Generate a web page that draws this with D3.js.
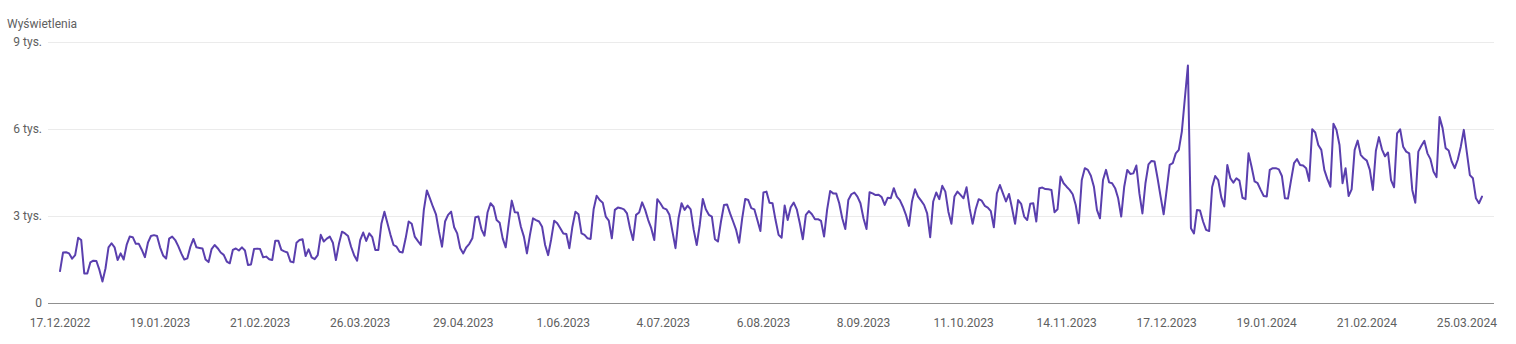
<!DOCTYPE html>
<html>
<head>
<meta charset="utf-8">
<script src="https://cdn.jsdelivr.net/npm/d3@7"></script>
<style>
	html, body { margin: 0; padding: 0; background: #fff; }
	svg { display: block; font-family: Roboto, 'Noto Sans', sans-serif; }
</style>
</head>
<body>
<div id="chart"></div>
<script>
// daily views, starting 17.12.2022
const startDate = '17.12.2022'
const views = [
	1100, 1740, 1750, 1710, 1530, 1650, 2250, 2170, 1020, 1020, 1400, 1460, 1450, 1140, 740, 1190,
	1920, 2060, 1920, 1480, 1710, 1500, 2010, 2290, 2270, 2040, 2040, 1830, 1580, 2080, 2310, 2340,
	2310, 1920, 1640, 1530, 2220, 2290, 2170, 1960, 1710, 1500, 1540, 1940, 2210, 1920, 1900, 1880,
	1500, 1410, 1860, 2000, 1890, 1740, 1660, 1430, 1370, 1830, 1880, 1810, 1920, 1810, 1310, 1330,
	1860, 1875, 1860, 1575, 1600, 1510, 1480, 2150, 2150, 1830, 1780, 1740, 1430, 1400, 2080, 2170,
	2200, 1620, 1850, 1575, 1510, 1650, 2350, 2120, 2220, 2290, 2080, 1480, 2040, 2460, 2400, 2310,
	1940, 1650, 1460, 2170, 2430, 2140, 2400, 2270, 1830, 1830, 2730, 3150, 2750, 2350, 2000, 1940,
	1770, 1740, 2230, 2810, 2730, 2290, 2140, 2000, 3210, 3880, 3610, 3320, 3060, 2460, 1940, 2810,
	3040, 3150, 2610, 2400, 1890, 1710, 1920, 2040, 2230, 2960, 2980, 2540, 2320, 3120, 3440, 3320,
	2860, 2770, 2230, 1920, 2750, 3530, 3130, 3120, 2630, 2290, 1710, 2350, 2920, 2860, 2810, 2630,
	2000, 1650, 2200, 2840, 2750, 2580, 2400, 2380, 1890, 2630, 3150, 3060, 2400, 2350, 2230, 2210,
	3230, 3700, 3550, 3460, 2980, 2840, 2230, 3210, 3290, 3270, 3230, 3090, 2580, 2170, 3040, 3120,
	3470, 3210, 2860, 2580, 2170, 3580, 3440, 3270, 3230, 3040, 2460, 1890, 2920, 3440, 3210, 3360,
	3230, 2520, 2000, 2690, 3590, 3230, 3040, 2980, 2200, 2120, 2810, 3380, 3400, 3090, 2810, 2520,
	2080, 2920, 3590, 3550, 3270, 3230, 2860, 2480, 3810, 3840, 3460, 3440, 2860, 2350, 2250, 3360,
	2860, 3300, 3460, 3230, 2750, 2200, 3040, 3170, 3060, 2890, 2890, 2830, 2290, 3210, 3860, 3780,
	3780, 3440, 2920, 2550, 3550, 3750, 3810, 3670, 3440, 2920, 2550, 3820, 3780, 3720, 3730, 3650,
	3380, 3630, 3610, 3960, 3670, 3550, 3320, 3040, 2660, 3500, 3920, 3670, 3530, 3380, 3090, 2270,
	3500, 3810, 3580, 4040, 3840, 3150, 2730, 3670, 3840, 3730, 3610, 3990, 3270, 2730, 3230, 3580,
	3530, 3350, 3290, 3170, 2610, 3780, 4070, 3780, 3500, 3760, 3270, 2730, 3550, 3420, 2980, 2860,
	3420, 3440, 2810, 3960, 3980, 3930, 3920, 3900, 3130, 3230, 4360, 4130, 4010, 3900, 3750, 3380,
	2750, 4240, 4650, 4590, 4390, 4010, 3210, 2920, 4240, 4590, 4160, 4130, 3960, 3610, 2980, 4010,
	4590, 4450, 4470, 4740, 3780, 3090, 4130, 4780, 4900, 4880, 4300, 3670, 3060, 3900, 4760, 4820,
	5160, 5280, 5910, 7060, 8190, 2580, 2400, 3210, 3190, 2810, 2520, 2480, 4000, 4380, 4240, 3650,
	3330, 4760, 4300, 4150, 4300, 4220, 3630, 3580, 5160, 4700, 4190, 4130, 3900, 3690, 3670, 4590,
	4650, 4650, 4610, 4380, 3610, 3600, 4220, 4820, 4960, 4760, 4740, 4650, 4210, 5990, 5880, 5450,
	5280, 4590, 4270, 4010, 6180, 5970, 5450, 4130, 4650, 3690, 3920, 5280, 5600, 5110, 4990, 4910,
	4590, 3900, 5250, 5720, 5300, 5060, 5190, 4240, 3990, 5850, 5990, 5390, 5220, 5160, 3900, 3460,
	5220, 5420, 5590, 5160, 4960, 4530, 4340, 6410, 6030, 5340, 5260, 4880, 4650, 4940, 5390, 5970,
	5190, 4410, 4300, 3610, 3440, 3670
]

const xTickLabels = [
	'17.12.2022', '19.01.2023', '21.02.2023', '26.03.2023', '29.04.2023',
	'1.06.2023', '4.07.2023', '6.08.2023', '8.09.2023', '11.10.2023',
	'14.11.2023', '17.12.2023', '19.01.2024', '21.02.2024', '25.03.2024'
]
const yTickValues = [0, 3000, 6000, 9000]
const yTickLabels = ['0', '3 tys.', '6 tys.', '9 tys.']
const yTitle = 'Wyświetlenia'

const width = 1516
const height = 344

const parseDate = d3.timeParse('%d.%m.%Y')
const day0 = parseDate(startDate)
const data = views.map((v, i) => ({ date: d3.timeDay.offset(day0, i), value: v }))

const x = d3.scaleTime()
	.domain(d3.extent(data, d => d.date))
	.range([60, 1482])

const y = d3.scaleLinear()
	.domain([0, 9000])
	.range([303, 42])

const svg = d3.select('#chart')
	.append('svg')
	.attr('width', width)
	.attr('height', height)

// gridlines
svg.append('g')
	.selectAll('line')
	.data(yTickValues)
	.enter()
	.append('line')
	.attr('x1', 48)
	.attr('x2', 1494)
	.attr('y1', d => Math.round(y(d)) + 0.5)
	.attr('y2', d => Math.round(y(d)) + 0.5)
	.attr('stroke', d => d === 0 ? '#909090' : '#ebebeb')
	.attr('stroke-width', 1)

// y labels
svg.append('g')
	.selectAll('text')
	.data(yTickValues)
	.enter()
	.append('text')
	.attr('x', 42)
	.attr('y', d => y(d))
	.attr('dy', '0.35em')
	.attr('text-anchor', 'end')
	.attr('font-size', 12)
	.attr('fill', '#606060')
	.text((d, i) => yTickLabels[i])

svg.append('text')
	.attr('x', 7)
	.attr('y', 28)
	.attr('font-size', 12)
	.attr('fill', '#606060')
	.text(yTitle)

// x labels
svg.append('g')
	.selectAll('text')
	.data(xTickLabels)
	.enter()
	.append('text')
	.attr('x', d => x(parseDate(d)))
	.attr('y', 327)
	.attr('text-anchor', 'middle')
	.attr('font-size', 12)
	.attr('fill', '#606060')
	.text(d => d)

const line = d3.line()
	.x(d => x(d.date))
	.y(d => y(d.value))

svg.append('path')
	.datum(data)
	.attr('d', line)
	.attr('fill', 'none')
	.attr('stroke', '#5a3fae')
	.attr('stroke-width', 2)
	.attr('stroke-linejoin', 'round')
	.attr('stroke-linecap', 'round')
</script>
</body>
</html>
